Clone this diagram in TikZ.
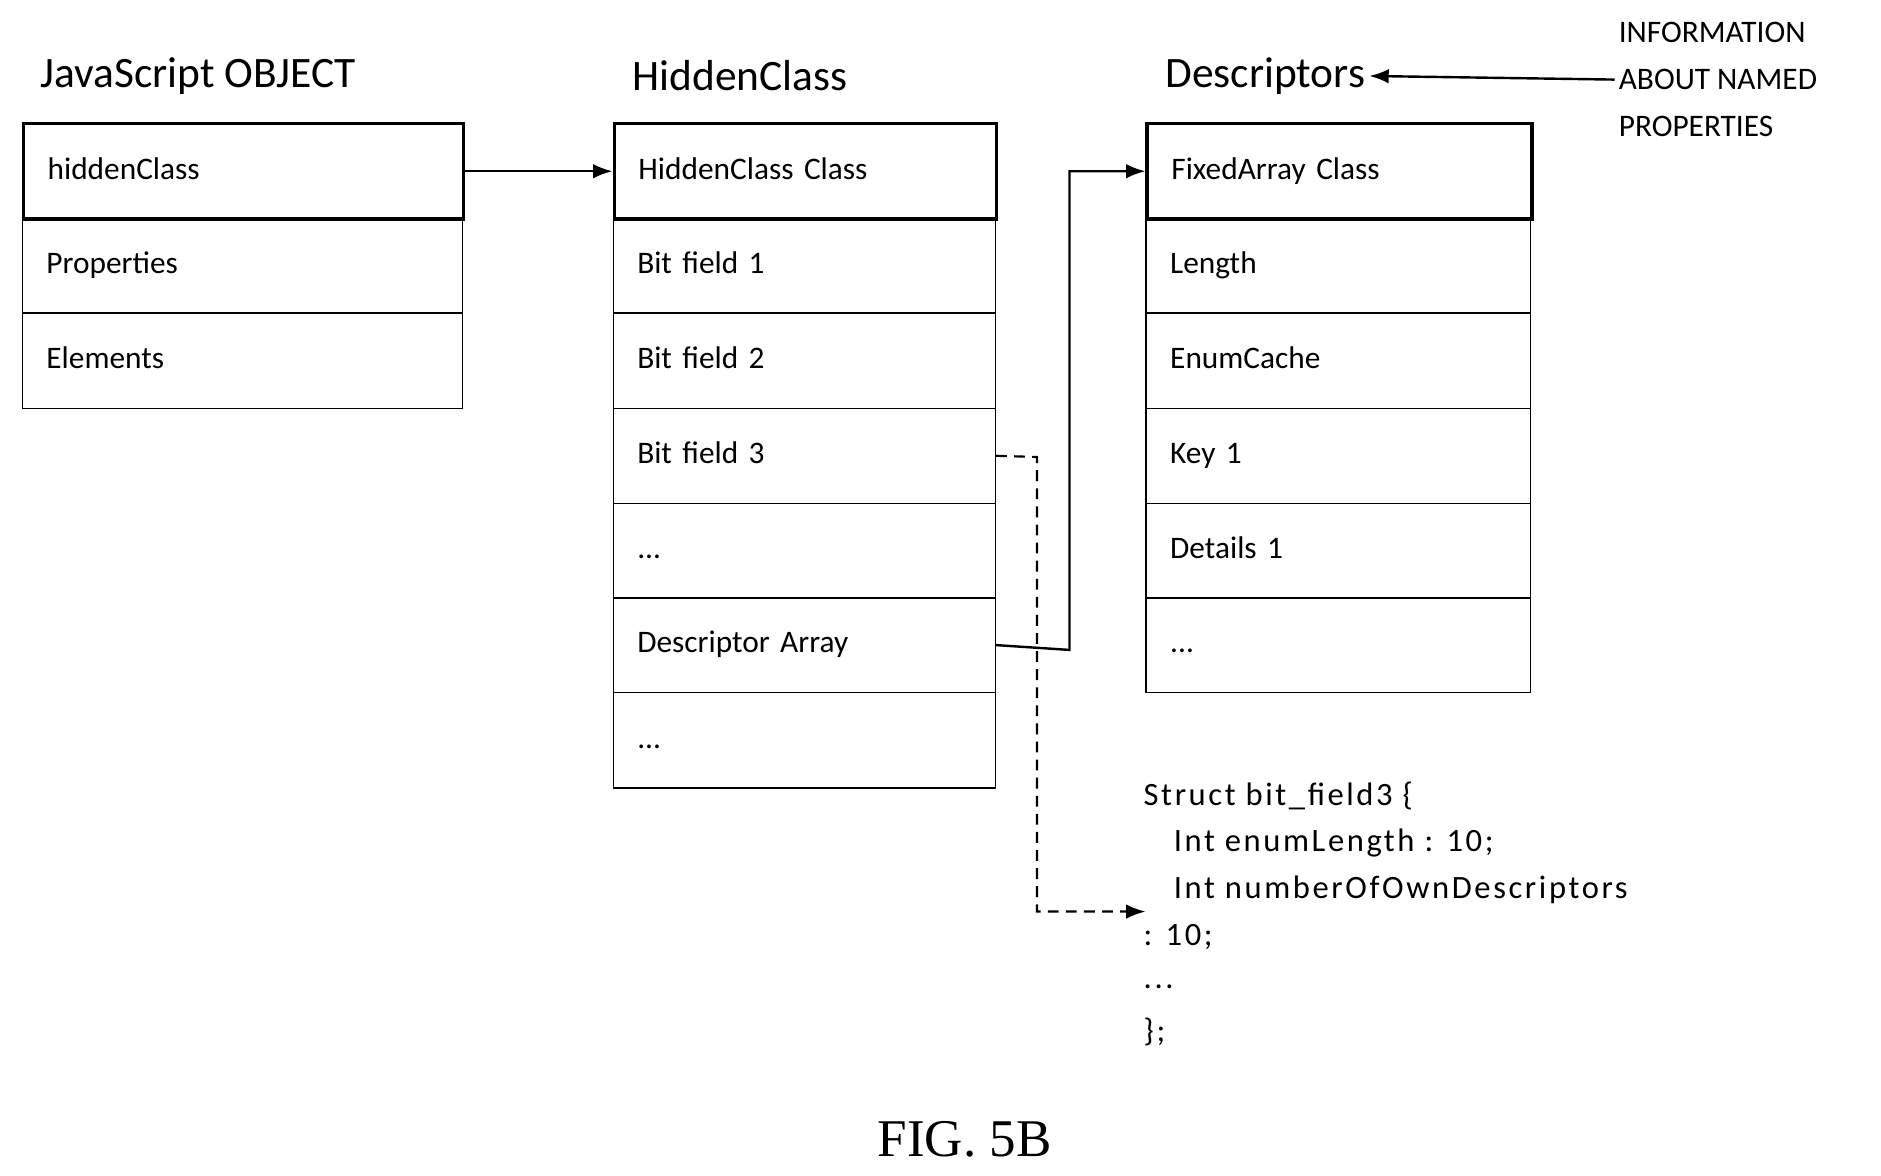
\documentclass[tikz,border=0pt]{standalone}
\usepackage{fontspec}
\setmainfont{Carlito}
\newfontfamily\figfont{Liberation Serif}
\usetikzlibrary{arrows.meta}
\begin{document}
\begin{tikzpicture}[x=1pt,y=-1pt,
  cell/.style={draw,line width=1pt,minimum height=79pt,inner xsep=20pt,anchor=north west,text height=18pt,text depth=5pt,align=left,font=\fontsize{26}{26}\selectfont},
  head/.style={cell,line width=3pt},
  title/.style={anchor=west,font=\fontsize{36}{36}\selectfont},
  arr/.style={line width=2pt,-{Latex[length=16pt,width=12pt]}},
  code/.style={anchor=west,font=\fontsize{27}{27}\selectfont\addfontfeature{LetterSpace=8}}]
\useasboundingbox (0,0) rectangle (1560,975);
% titles
\node[title] (t1) at (30,63) {JavaScript OBJECT};
\node[title] (t2) at (521,63) {HiddenClass};
\node[title] (t3) at (963,63) {Descriptors};
\node[anchor=west,align=left,font=\fontsize{26}{39}\selectfont] (info) at (1339,66) {INFORMATION\\ABOUT NAMED\\PROPERTIES};
% JS object
\newcommand{\row}[5]{\node[#1,minimum width=#3pt,text width=#3pt-40pt] (#5) at (#2) {#4};}
\row{cell}{18,180}{365}{Properties}{jp}
\row{cell}{18,259}{365}{Elements}{je}
\row{head}{18,101}{365}{hiddenClass}{jh}
% HiddenClass
\row{cell}{508,180}{317}{Bit field 1}{h1}
\row{cell}{508,259}{317}{Bit field 2}{h2}
\row{cell}{508,338}{317}{Bit field 3}{h3}
\row{cell}{508,417}{317}{...}{h4}
\row{cell}{508,495}{317}{Descriptor Array}{hd}
\row{cell}{508,574}{317}{...}{h6}
\row{head}{508,101}{317}{HiddenClass Class}{hh}
% Descriptors
\row{cell}{950,180}{319}{Length}{d1}
\row{cell}{950,259}{319}{EnumCache}{d2}
\row{cell}{950,338}{319}{Key 1}{d3}
\row{cell}{950,417}{319}{Details 1}{d4}
\row{cell}{950,495}{319}{...}{d5}
\row{head}{950,101}{319}{FixedArray Class}{dh}
% code
\node[code] (c1) at (945,660) {Struct bit\_field3 \{};
\node[code] (c2) at (970,699) {Int enumLength : 10;};
\node[code] (c3) at (970,738) {Int numberOfOwnDescriptors};
\node[code] (c4) at (945,777) {: 10;};
\node[code] (c5) at (945,818) {...};
\node[code] (c6) at (945,856) {\};};
\coordinate (ce) at (950,756);
\node[font=\figfont\fontsize{44}{44}\selectfont] (fig) at (800,945) {FIG. 5B};
% arrows
\draw[arr] (jh.east) -- (hh.west);
\draw[arr] (hd.east) -- (887,539) |- (dh.west);
\draw[arr,dashed,line width=1.8pt,dash pattern=on 9pt off 6pt] (h3.east) -- (860,379) |- (ce);
\draw[arr] (info.west) -- (t3.east);
\end{tikzpicture}
\end{document}
